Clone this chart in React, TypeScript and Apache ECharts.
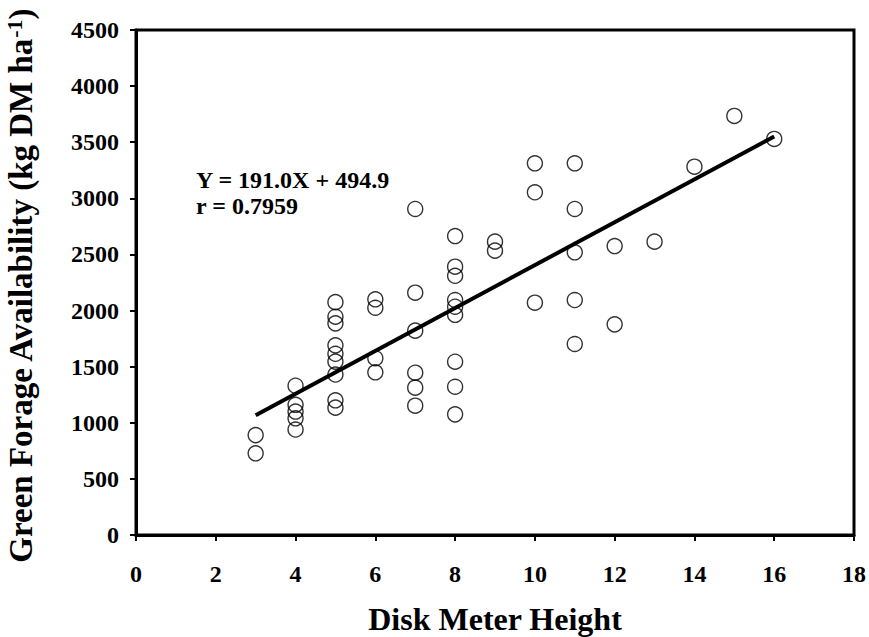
import React, { useEffect, useRef } from "react";
import * as echarts from "echarts";

const diskHeight = [
  3, 3,
  4, 4, 4, 4, 4,
  5, 5, 5, 5, 5, 5, 5, 5, 5,
  6, 6, 6, 6,
  7, 7, 7, 7, 7, 7,
  8, 8, 8, 8, 8, 8, 8, 8, 8,
  9, 9,
  10, 10, 10,
  11, 11, 11, 11, 11,
  12, 12,
  13,
  14,
  15,
  16,
];
const forage = [
  890, 728,
  1330, 1160, 1100, 1040, 940,
  2075, 1945, 1886, 1690, 1615, 1545, 1430, 1200, 1135,
  2100, 2025, 1575, 1450,
  2905, 2159, 1821, 1446, 1313, 1152,
  2664, 2391, 2310, 2094, 2034, 1962, 1544, 1321, 1075,
  2614, 2534,
  3312, 3054, 2070,
  3312, 2905, 2519, 2094, 1702,
  2575, 1877,
  2614,
  3282,
  3734,
  3529,
];
const fitX = [3, 16];
const fitY = [1068, 3551];
const equationLines = ["Y = 191.0X + 494.9", "r = 0.7959"];
const xTitle = "Disk Meter Height";
const yTitleMain = "Green Forage Availability (kg DM ha";
const yTitleSup = "-1";

const FONT = "'Liberation Serif', 'Times New Roman', serif";

export default function App() {
  const ref = useRef<HTMLDivElement>(null);
  useEffect(() => {
    document.body.style.margin = "0";
    if (!ref.current) return;
    const chart = echarts.init(ref.current, null, { renderer: "svg" });
    const points = diskHeight.map((x, i) => [x, forage[i]]);
    const fit = fitX.map((x, i) => [x, fitY[i]]);
    chart.setOption({
      animation: false,
      backgroundColor: "#fff",
      grid: {
        left: 136,
        right: 15,
        top: 30,
        bottom: 102,
        show: true,
        borderColor: "#000",
        borderWidth: 3,
        outerBoundsMode: "none",
      },
      xAxis: {
        type: "value",
        min: 0,
        max: 18,
        interval: 2,
        name: xTitle,
        nameLocation: "middle",
        nameGap: 68,
        nameTextStyle: { fontFamily: FONT, fontWeight: "bold", fontSize: 32, color: "#000" },
        axisLine: { show: true, lineStyle: { color: "#000", width: 3 } },
        axisTick: { show: true, inside: false, length: 6, lineStyle: { color: "#000", width: 2 } },
        axisLabel: {
          fontFamily: FONT,
          fontWeight: "bold",
          fontSize: 24,
          color: "#000",
          margin: 27,
          formatter: (v: number) => String(v),
        },
        splitLine: { show: false },
      },
      yAxis: {
        type: "value",
        min: 0,
        max: 4500,
        interval: 500,
        axisLine: { show: true, lineStyle: { color: "#000", width: 3 } },
        axisTick: { show: true, inside: false, length: 6, lineStyle: { color: "#000", width: 2 } },
        axisLabel: {
          fontFamily: FONT,
          fontWeight: "bold",
          fontSize: 24,
          color: "#000",
          margin: 17,
          formatter: (v: number) => String(v),
        },
        splitLine: { show: false },
      },
      series: [
        {
          type: "scatter",
          data: points,
          symbol: "circle",
          symbolSize: 15,
          itemStyle: { color: "rgba(0,0,0,0)", borderColor: "#000", borderWidth: 1.4 },
          z: 2,
        },
        {
          type: "line",
          data: fit,
          symbol: "none",
          lineStyle: { color: "#000", width: 4 },
          z: 3,
        },
      ],
      graphic: [
        {
          type: "text",
          left: 196,
          top: 167,
          style: {
            text: equationLines.join("\n"),
            fontFamily: FONT,
            fontWeight: "bold",
            fontSize: 24,
            lineHeight: 26,
            fill: "#000",
          },
        },
        {
          type: "text",
          x: 21,
          y: 286,
          rotation: Math.PI / 2,
          style: {
            text: `{t|${yTitleMain}}{s|${yTitleSup}}{t|)}`,
            align: "center",
            verticalAlign: "middle",
            rich: {
              t: { fontFamily: FONT, fontWeight: "bold", fontSize: 33, fill: "#000", lineHeight: 36 },
              s: { fontFamily: FONT, fontWeight: "bold", fontSize: 22, fill: "#000", lineHeight: 36, verticalAlign: "top" },
            },
          },
        },
      ],
    });
    return () => chart.dispose();
  }, []);
  return <div ref={ref} style={{ width: 869, height: 637 }} />;
}
